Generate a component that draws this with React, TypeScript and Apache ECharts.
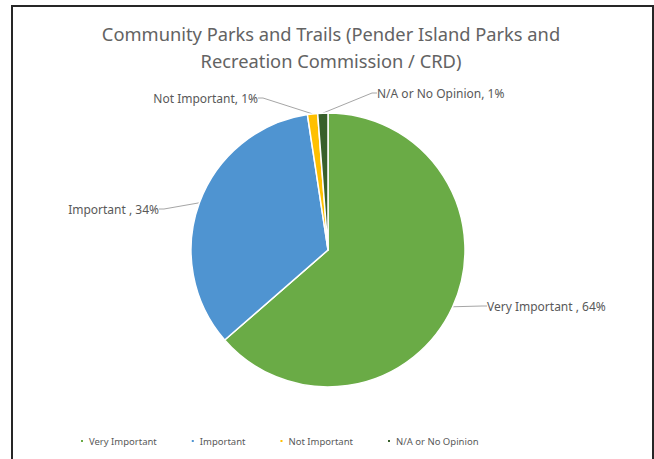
import React, { useEffect, useRef } from "react";
import * as echarts from "echarts";

const titleText = "Community Parks and Trails (Pender Island Parks and\nRecreation Commission / CRD)";
const categories = ["Very Important", "Important", "Not Important", "N/A or No Opinion"];
const values = [63.6, 34.0, 1.2, 1.2];
const labelSeparators = [" , ", " , ", ", ", ", "];
const colors = ["#6AAB46", "#4F94D1", "#FFC000", "#38602B"];

// label placement (x, y, align) for each slice label
const labelPlacement: [number, number, string][] = [
  [487, 306, "left"],
  [159, 209, "right"],
  [258, 98, "right"],
  [377, 93, "left"],
];

const FONT = "Noto Sans";

export default function App() {
  const ref = useRef<HTMLDivElement>(null);
  useEffect(() => {
    if (!ref.current) return;
    const chart = echarts.init(ref.current, undefined, { renderer: "svg" });
    chart.setOption({
      animation: false,
      backgroundColor: "#ffffff",
      color: colors,
      graphic: [
        {
          type: "rect",
          shape: { x: 12, y: 6, width: 641, height: 520 },
          style: { fill: "none", stroke: "#262626", lineWidth: 2 },
          silent: true,
        },
        {
          type: "text",
          x: 331,
          y: 47,
          style: {
            text: titleText,
            align: "center",
            verticalAlign: "middle",
            fontFamily: FONT,
            fontSize: 18.3,
            lineHeight: 27,
            fill: "#636363",
          },
        },
      ],
      legend: {
        top: 431,
        left: 74,
        icon: "rect",
        itemWidth: 4,
        itemHeight: 4,
        itemGap: 33,
        itemTextGap: 4,
        textStyle: { fontFamily: FONT, fontSize: 9.5, color: "#595959" },
        data: categories,
      },
      series: [
        {
          type: "pie",
          center: [328, 250],
          radius: 137,
          startAngle: 90,
          clockwise: true,
          avoidLabelOverlap: false,
          itemStyle: { borderColor: "#ffffff", borderWidth: 1.5 },
          label: {
            show: true,
            position: "outside",
            fontFamily: FONT,
            fontSize: 12,
            color: "#595959",
            formatter: (p: any) =>
              `${p.name}${labelSeparators[p.dataIndex]}${Math.round(p.percent)}%`,
          },
          labelLine: {
            show: true,
            length: 10,
            length2: 5,
            lineStyle: { color: "#A6A6A6", width: 1 },
          },
          labelLayout: (params: any) => {
            const lp = labelPlacement[params.dataIndex];
            return { x: lp[0], y: lp[1], align: lp[2], verticalAlign: "middle" };
          },
          data: categories.map((c, i) => ({
            name: c,
            value: values[i],
            itemStyle: { color: colors[i] },
          })),
        },
      ],
    });
    return () => chart.dispose();
  }, []);
  return (
    <div
      ref={ref}
      style={{ position: "absolute", left: 0, top: 0, width: 654, height: 459 }}
    />
  );
}
